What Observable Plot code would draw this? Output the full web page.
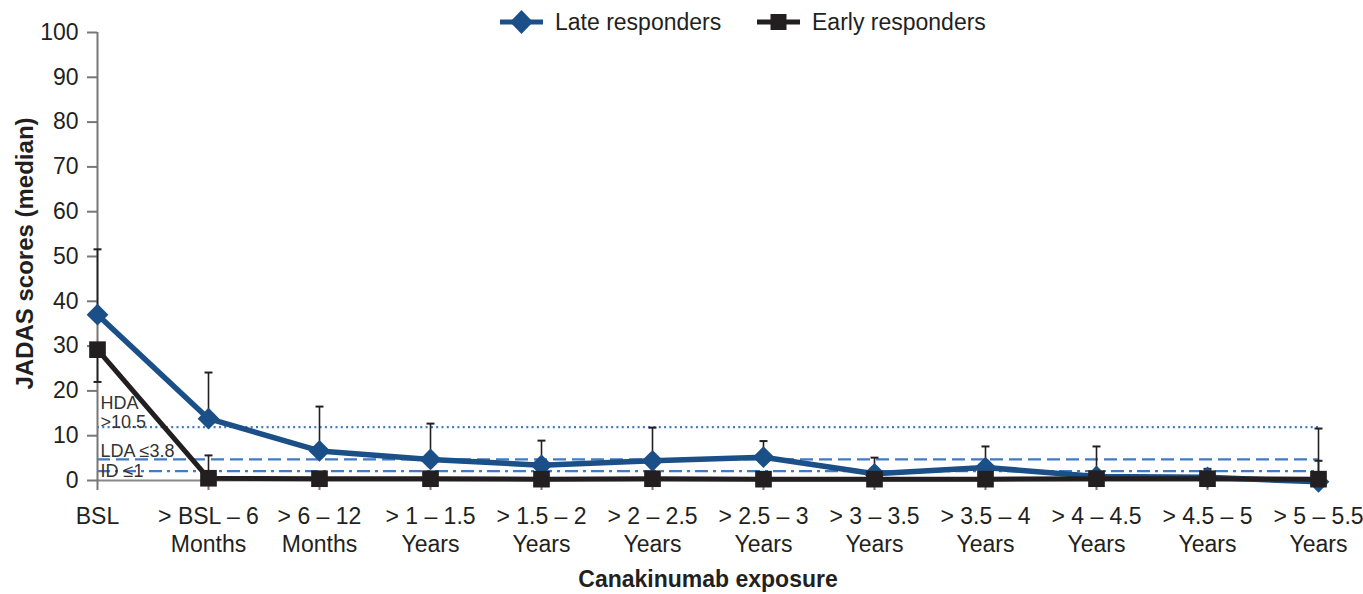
<!DOCTYPE html>
<html>
<head>
<meta charset="utf-8">
<script src="https://cdn.jsdelivr.net/npm/d3@7"></script>
<script src="https://cdn.jsdelivr.net/npm/@observablehq/plot@0.6"></script>
<style>
  html, body { margin: 0; padding: 0; background: #fff; }
  #wrap { position: relative; width: 1363px; height: 594px; font-family: "Liberation Sans", Arial, sans-serif; color: #231f20; }
  #legend { position: absolute; top: 8px; left: 0; width: 1363px; height: 28px; }
  #legend .item { position: absolute; top: 0; display: flex; align-items: center; font-size: 23px; }
  #legend svg { margin-right: 12px; }
</style>
</head>
<body>
<div id="wrap">
  <div id="chart"></div>
  <div id="legend"></div>
</div>
<script>
// ---- data ----
const categories = [
  "BSL", "> BSL – 6\nMonths", "> 6 – 12\nMonths", "> 1 – 1.5\nYears", "> 1.5 – 2\nYears",
  "> 2 – 2.5\nYears", "> 2.5 – 3\nYears", "> 3 – 3.5\nYears", "> 3.5 – 4\nYears",
  "> 4 – 4.5\nYears", "> 4.5 – 5\nYears", "> 5 – 5.5\nYears"
];
const lateResponders  = [37.0, 13.8, 6.6, 4.7, 3.4, 4.4, 5.2, 1.5, 2.9, 0.9, 0.7, -0.3];
const lateUpper       = [51.6, 24.1, 16.5, 12.7, 8.9, 11.8, 8.8, 5.1, 7.6, 7.6, 2.6, 11.6];
const earlyResponders = [29.2, 0.5, 0.4, 0.4, 0.3, 0.4, 0.3, 0.3, 0.3, 0.4, 0.4, 0.3];
const earlyLower      = [22.0, null, null, null, null, null, null, null, null, null, null, null];
const earlyUpper      = [null, 5.6, null, null, null, null, null, null, null, null, null, 4.4];
const thresholds      = [11.9, 4.7, 2.1];
const thresholdLabels = ["HDA\n>10.5", "LDA ≤3.8", "ID ≤1"];
const yTicks = [0, 10, 20, 30, 40, 50, 60, 70, 80, 90, 100];
const seriesNames = ["Late responders", "Early responders"];
const yLabel = "JADAS scores (median)";
const xLabel = "Canakinumab exposure";

// ---- build tables ----
const BLUE = "#1b4f87", BLACK = "#231f20", REF = "#3f7bc6", GRAY = "#777";
const FONT = "'Liberation Sans', Arial, sans-serif";

const late = categories.map((c, i) => ({cat: c, v: lateResponders[i]}));
const early = categories.map((c, i) => ({cat: c, v: earlyResponders[i]}));
const errs = [];
categories.forEach((c, i) => {
  if (lateUpper[i] != null) errs.push({cat: c, y1: lateResponders[i], y2: lateUpper[i]});
  if (earlyLower[i] != null) errs.push({cat: c, y1: earlyResponders[i], y2: earlyLower[i]});
  if (earlyUpper[i] != null) errs.push({cat: c, y1: earlyResponders[i], y2: earlyUpper[i]});
});
const capSymbol = {draw(ctx, size) { const w = Math.sqrt(size) / 2; ctx.moveTo(-w, 0); ctx.lineTo(w, 0); }};

const refs = thresholds.map((t, i) => ({t, label: thresholdLabels[i]}));
const dashes = ["2,3.3", "13,6", "13,5,3,5"];
const zoneFont = 18;

const chart = Plot.plot({
  width: 1363,
  height: 594,
  marginLeft: 97,
  marginRight: 45,
  marginTop: 32,
  marginBottom: 114,
  style: {fontFamily: FONT, fontSize: "23px", color: BLACK, background: "white"},
  x: {type: "point", domain: categories, padding: 0},
  y: {domain: [0, 100]},
  marks: [
    // threshold lines
    ...refs.map((r, i) => Plot.ruleY([r.t], {stroke: REF, strokeWidth: 2.2, strokeDasharray: dashes[i]})),
    Plot.text([refs[0]], {frameAnchor: "left", dx: 3, y: "t", text: "label", lineAnchor: "bottom", dy: 1, lineHeight: 1.07, fontSize: zoneFont, fill: "#333", textAnchor: "start"}),
    Plot.text([refs[1]], {frameAnchor: "left", dx: 3, y: "t", text: "label", lineAnchor: "bottom", dy: -2, fontSize: zoneFont, fill: "#333", textAnchor: "start"}),
    Plot.text([refs[2]], {frameAnchor: "left", dx: 3, y: "t", text: "label", lineAnchor: "middle", dy: 0, fontSize: zoneFont, fill: "#333", textAnchor: "start"}),
    // axes
    Plot.ruleY([0], {stroke: "#888", strokeWidth: 2}),
    Plot.ruleX([categories[0]], {y1: 0, y2: 100, stroke: GRAY, strokeWidth: 2}),
    Plot.axisY({ticks: yTicks, tickSize: 10, tickPadding: 9, stroke: GRAY, strokeWidth: 2, fill: BLACK, fontSize: 23, label: null}),
    Plot.axisX({tickSize: 10, tickPadding: 14, stroke: GRAY, strokeWidth: 2, fill: BLACK, fontSize: 23, lineHeight: 1.22, label: null}),
    Plot.text([yLabel], {frameAnchor: "left", dx: -72, dy: -3, rotate: -90, textAnchor: "middle", lineAnchor: "middle", fontSize: 24, fontWeight: "bold", fill: BLACK}),
    Plot.text([xLabel], {frameAnchor: "bottom", dy: 99, textAnchor: "middle", lineAnchor: "middle", fontSize: 23, fontWeight: "bold", fill: BLACK}),
    // error bars
    Plot.ruleX(errs, {x: "cat", y1: "y1", y2: "y2", stroke: BLACK, strokeWidth: 1.6}),
    Plot.dot(errs, {x: "cat", y: "y2", symbol: capSymbol, r: 4.5, stroke: BLACK, strokeWidth: 2, fill: "none"}),
    // series
    Plot.line(late, {x: "cat", y: "v", stroke: BLUE, strokeWidth: 5.5}),
    Plot.dot(late, {x: "cat", y: "v", symbol: "diamond2", r: 9.8, fill: BLUE, stroke: "none"}),
    Plot.line(early, {x: "cat", y: "v", stroke: BLACK, strokeWidth: 5}),
    Plot.dot(early, {x: "cat", y: "v", symbol: "square", r: 9.4, fill: BLACK, stroke: "none"})
  ]
});
document.getElementById("chart").append(chart);

// legend
const legend = document.getElementById("legend");
const legendItems = [
  {name: seriesNames[0], color: BLUE, shape: "diamond", left: 500},
  {name: seriesNames[1], color: BLACK, shape: "square", left: 757}
];
legendItems.forEach(it => {
  const div = document.createElement("div");
  div.className = "item";
  div.style.left = it.left + "px";
  const marker = it.shape === "diamond"
    ? `<polygon points="21.5,2 33,14 21.5,26 10,14" fill="${it.color}"/>`
    : `<rect x="13.5" y="6" width="16" height="16" fill="${it.color}"/>`;
  div.innerHTML = `<svg width="43" height="28"><line x1="0" y1="14" x2="43" y2="14" stroke="${it.color}" stroke-width="5"/>${marker}</svg><span>${it.name}</span>`;
  legend.append(div);
});
</script>
</body>
</html>
